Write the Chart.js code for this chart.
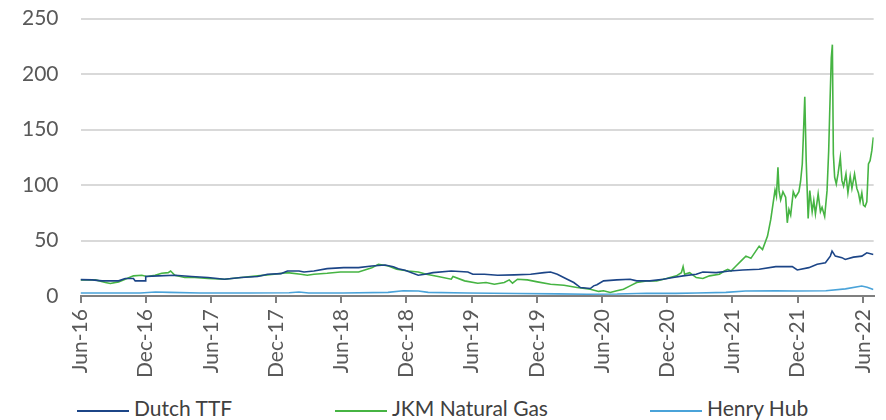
<!DOCTYPE html>
<html>
<head>
<meta charset="utf-8">
<script src="https://cdn.jsdelivr.net/npm/chart.js@4.4.0/dist/chart.umd.min.js"></script>
<style>
  html, body { margin: 0; padding: 0; background: #fff; overflow: hidden; }
  #wrap { position: relative; width: 886px; height: 420px; overflow: hidden; }
  #chartBox { position: absolute; left: 0; top: -16px; width: 894px; height: 400px; }
  #legend { position: absolute; left: 0; top: 394px; width: 886px; height: 30px;
            font-family: Lato, sans-serif; font-size: 21px; color: #404040; }
  .item { position: absolute; top: 0; white-space: nowrap; line-height: 28px; }
  .item .swatch { display: inline-block; width: 52px; height: 2px; vertical-align: middle; margin-right: 5px; }
</style>
</head>
<body>
<div id="wrap">
  <div id="chartBox"><canvas id="gasChart"></canvas></div>
  <div id="legend"></div>
</div>
<script>
// x = months since Jun-16
const tickLabels = ['Jun-16', 'Dec-16', 'Jun-17', 'Dec-17', 'Jun-18', 'Dec-18', 'Jun-19',
                    'Dec-19', 'Jun-20', 'Dec-20', 'Jun-21', 'Dec-21', 'Jun-22'];

const seriesNames = ['Dutch TTF', 'JKM Natural Gas', 'Henry Hub'];

const ttfMonths = [0, 1.07, 1.98, 3.5, 4.11, 4.87, 5.03, 5.94, 6.0, 7.16, 8.68, 10.21, 11.73, 13.25,
  14.78, 16.3, 17.21, 18.44, 19.04, 20.11, 20.57, 21.48, 22.7, 24.22, 25.59, 26.81, 28.03, 28.79,
  29.25, 29.86, 31.08, 31.69, 32.45, 34.12, 35.65, 36.11, 37.17, 38.39, 39.92, 41.43, 42.66, 43.26,
  43.88, 44.79, 45.4, 46.01, 46.92, 47.23, 47.53, 48.14, 49.36, 50.58, 51.19, 52.4, 53.63, 54.54,
  55.46, 56.67, 57.28, 58.5, 59.72, 60.94, 62.46, 63.99, 65.51, 65.97, 67.03, 67.8, 68.56, 69.01,
  69.17, 69.47, 70.08, 70.38, 71.14, 71.91, 72.37, 72.97];
const ttfValues = [14.8, 14.6, 13.7, 13.7, 15.8, 15.8, 13.7, 13.7, 17.6, 18.2, 18.8, 17.6, 16.7, 15.2,
  16.7, 17.6, 19.7, 20.2, 22.6, 22.6, 21.7, 22.6, 24.7, 25.6, 25.6, 27.1, 28.0, 26.5,
  24.7, 23.2, 18.8, 19.7, 21.1, 22.6, 21.7, 19.7, 19.7, 18.8, 19.1, 19.7, 21.1, 21.7,
  19.7, 15.2, 12.2, 7.7, 6.8, 9.2, 10.2, 13.7, 14.6, 15.2, 13.7, 13.7, 15.2, 16.7,
  18.2, 19.7, 21.7, 21.1, 22.6, 23.5, 24.1, 26.5, 26.5, 23.5, 25.6, 28.6, 30.1, 36,
  40.5, 36, 34.6, 33, 35.1, 36, 39, 37.5];

const jkmMonths = [0, 1.37, 2.29, 2.74, 3.5, 4.11, 4.87, 5.64, 6.1, 6.86, 7.47, 8.07, 8.29, 8.68, 9.6,
  10.51, 11.73, 13.25, 14.78, 16.3, 17.82, 19.04, 20.27, 20.87, 21.48, 22.7, 23.92, 25.59, 26.81,
  27.42, 28.34, 29.09, 30.16, 31.08, 31.84, 32.91, 34.12, 34.28, 35.35, 36.56, 37.32, 38.09, 39.0,
  39.46, 39.76, 40.22, 41.13, 42.05, 43.26, 44.49, 45.7, 46.92, 47.69, 48.14, 48.75, 49.36, 49.97,
  50.58, 51.19, 52.1, 53.02, 53.93, 54.84, 55.3, 55.46, 55.6, 56.06, 56.67, 57.28, 57.89, 58.8,
  59.26, 59.57, 59.87, 60.33, 60.94, 61.24, 61.7, 62.46, 62.77, 63.23, 63.53, 63.92, 64.05, 64.19,
  64.29, 64.44, 64.65, 64.9, 65.05, 65.2, 65.36, 65.6, 65.81, 66.12, 66.27, 66.43, 66.52, 66.66,
  66.79, 66.97, 67.12, 67.34, 67.49, 67.64, 67.89, 68.1, 68.25, 68.49, 68.71, 68.86, 68.95, 69.1,
  69.2, 69.29, 69.41, 69.56, 69.72, 69.93, 70.08, 70.23, 70.45, 70.63, 70.84, 71.0, 71.24, 71.45,
  71.6, 71.75, 71.91, 72.06, 72.21, 72.37, 72.52, 72.67, 72.83, 72.97];
const jkmValues = [14.6, 14.6, 12.2, 11.3, 12.8, 15.2, 18.2, 18.8, 17.6, 18.8, 20.5, 21.1, 22.6, 18.8, 16.7,
  16.7, 15.8, 15.2, 16.7, 18.2, 19.7, 21.1, 19.7, 18.8, 19.7, 20.5, 21.7, 21.7, 25.6,
  28.6, 27.1, 24.1, 22.6, 21.7, 19.7, 17.6, 15.2, 17.6, 13.7, 11.6, 12.2, 10.7, 12.2,
  14.6, 11.6, 15.2, 14.6, 12.8, 10.7, 9.8, 7.7, 6.2, 4.2, 4.8, 3.3, 4.8, 6.2,
  9.2, 12.2, 13.7, 13.7, 15.8, 18.2, 21.1, 26.5, 19.7, 21.1, 16.7, 15.8, 18.2, 19.7,
  22.6, 24.1, 22.6, 27.1, 33, 36, 34, 45, 42, 54, 69, 95.5, 90, 116,
  95, 86.6, 94, 89, 66, 78, 73, 94, 89, 94, 103, 119, 141.7, 179.5,
  122, 70, 95, 76, 86, 74, 92, 76, 80, 71.7, 95, 131, 164, 214.6,
  226.5, 128, 107, 101, 110, 125, 104, 99, 110, 93, 108, 97, 110, 97,
  93, 85, 93, 82, 80.6, 85, 119, 122, 131, 143];

const hhMonths = [0, 5.5, 6.9, 8.2, 11, 15.5, 19.2, 20.1, 21, 24.2, 28.3, 29.7, 31.1, 32, 35.6,
  40.2, 43.9, 46.6, 49.4, 52.1, 54.8, 56.7, 59.4, 61.2, 64, 65.8, 68.6, 70.4, 71.9, 72.4, 72.97];
const hhValues = [2.7, 2.7, 3.6, 3.3, 2.8, 2.8, 3.0, 3.6, 2.8, 2.8, 3.3, 4.8, 4.5, 3.3, 2.7,
  2.3, 2.0, 1.7, 1.8, 2.5, 2.4, 2.8, 3.3, 4.5, 4.8, 4.5, 4.8, 6.5, 9.0, 8.0, 6.0];

const colours = ['#1c4587', '#46b443', '#4aa3d9'];

const toPoints = (xs, ys) => xs.map((x, i) => ({ x: x, y: ys[i] }));

const makeSet = (i, xs, ys) => ({
  label: seriesNames[i],
  data: toPoints(xs, ys),
  borderColor: colours[i],
  backgroundColor: colours[i],
  borderWidth: 1.6,
  pointRadius: 0,
  tension: 0,
  fill: false
});

new Chart(document.getElementById('gasChart'), {
  type: 'line',
  data: {
    datasets: [
      makeSet(0, ttfMonths, ttfValues),
      makeSet(1, jkmMonths, jkmValues),
      makeSet(2, hhMonths, hhValues)
    ]
  },
  options: {
    responsive: true,
    maintainAspectRatio: false,
    animation: false,
    layout: { padding: { left: 0, right: -8, top: -10, bottom: 0 } },
    scales: {
      x: {
        type: 'linear',
        min: 0,
        max: 73,
        grid: { drawOnChartArea: false, drawTicks: true, tickLength: 7, color: '#7f7f7f', lineWidth: 2 },
        border: { display: true, color: '#7f7f7f', width: 2 },
        ticks: {
          stepSize: 6,
          includeBounds: false,
          autoSkip: false,
          minRotation: 90,
          maxRotation: 90,
          padding: 6,
          color: '#595959',
          font: { family: 'Lato', size: 21 },
          callback: v => tickLabels[v / 6] || ''
        }
      },
      y: {
        min: 0,
        max: 250,
        grid: { color: '#d9d9d9', lineWidth: 2, drawTicks: false },
        border: { display: false },
        ticks: {
          stepSize: 50,
          padding: 22,
          color: '#595959',
          font: { family: 'Lato', size: 21 }
        }
      }
    },
    plugins: {
      legend: { display: false },
      tooltip: { enabled: false }
    }
  }
});

// legend as plain text below the canvas
const legendLeft = [77, 335, 650];
const legendBox = document.getElementById('legend');
seriesNames.forEach((name, i) => {
  const item = document.createElement('div');
  item.className = 'item';
  item.style.left = legendLeft[i] + 'px';
  item.innerHTML = `<span class="swatch" style="background:${colours[i]}"></span>${name}`;
  legendBox.appendChild(item);
});
</script>
</body>
</html>
